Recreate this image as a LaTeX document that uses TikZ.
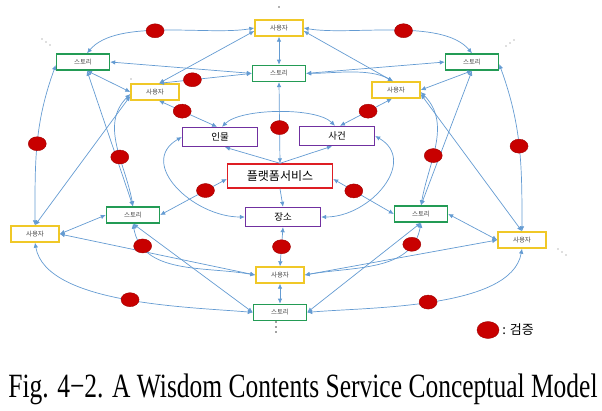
\documentclass[tikz,border=0pt]{standalone}
\usepackage{fontspec}
\setmainfont{Liberation Serif}
\newfontfamily\krfont{Noto Sans CJK KR}
\usepackage{xcolor}
\usepackage{tikz}
\usetikzlibrary{arrows.meta, positioning, shapes.geometric}

\definecolor{userY}{RGB}{240,200,40}
\definecolor{storyG}{RGB}{35,155,85}
\definecolor{topicP}{RGB}{112,48,160}
\definecolor{platR}{RGB}{222,30,36}
\definecolor{linkB}{RGB}{100,155,210}
\definecolor{chkR}{RGB}{200,0,0}

\begin{document}
\begin{tikzpicture}[
    x=1pt, y=1pt,
    node distance=20pt,
    user/.style={rectangle, draw=userY, line width=1.4pt, fill=white, minimum width=48pt, minimum height=16pt, inner sep=0pt, font=\krfont\fontsize{6.5}{7}\selectfont, text=black!70},
    story/.style={user, draw=storyG, minimum width=53pt},
    topic/.style={rectangle, draw=topicP, line width=1.4pt, fill=white, minimum width=75pt, minimum height=19pt, inner sep=0pt, font=\krfont\fontsize{9.5}{10}\selectfont},
    platform/.style={topic, draw=platR, minimum width=105pt, minimum height=24pt, font=\krfont\fontsize{12}{13}\selectfont},
    chk/.style={ellipse, fill=chkR, draw=chkR!80!black, line width=0.4pt, minimum width=18pt, minimum height=14pt, inner sep=0pt},
    arrow/.style={-{Latex[length=5pt, width=4.5pt]}, draw=linkB, line width=0.7pt},
    dblarrow/.style={arrow, {Latex[length=5pt, width=4.5pt]}-{Latex[length=5pt, width=4.5pt]}}
]
\useasboundingbox (0,0) rectangle (602,-410);

\node[user] (uT) at (279,-28) {사용자};
\node[story, below=28pt of uT] (sT) {스토리};
\node[story] (sTL) at (83,-62) {스토리};
\node[story] (sTR) at (472,-62) {스토리};
\node[user] (uL1) at (155,-92) {사용자};
\node[user] (uR1) at (396,-90) {사용자};
\node[topic] (pIn) at (220,-137) {인물};
\node[topic] (pSa) at (337,-136) {사건};
\node[platform] (plat) at (280,-176) {플랫폼서비스};
\node[topic] (pJa) at (283,-217) {장소};
\node[story] (sML) at (133,-215) {스토리};
\node[story] (sMR) at (421,-214) {스토리};
\node[user] (uML) at (35,-234) {사용자};
\node[user] (uMR) at (522,-240) {사용자};
\node[user] (uB) at (280,-275) {사용자};
\node[story, below=20pt of uB] (sB) {스토리};

\draw[dblarrow] ([xshift=4pt]sTL.north) to[out=50, in=190, looseness=.7] node[chk, pos=.45] (c1) {} (uT.west);
\draw[dblarrow] (uT.east) to[out=-10, in=130, looseness=.7] node[chk, pos=.55] (c2) {} (sTR.north);
\draw[dblarrow] (uT) -- (sT);
\draw[dblarrow] ([yshift=-3pt]uT.west) -- ([xshift=4pt]uL1.north);
\draw[dblarrow] ([yshift=-3pt]uT.east) -- ([xshift=-3pt]uR1.north);
\draw[dblarrow] (sT.west) -- (sTL.east);
\draw[dblarrow] (sT.east) -- (sTR.west);
\draw[dblarrow] (sT.west) -- node[chk, pos=.64] (c3) {} ([xshift=4pt]uL1.north);
\draw[dblarrow] (sT.east) to[out=0, in=150, looseness=.8] ([xshift=-3pt]uR1.north);

\draw[dblarrow] ([xshift=4pt]sTL.south) -- (uL1.west);
\draw[dblarrow] ([xshift=4pt]sTL.south) -- (sML.north);
\draw[dblarrow] ([yshift=-3pt]sTL.west) to[out=-110, in=90] node[chk, pos=.5] (c4) {} (uML.north);
\draw[dblarrow] ([yshift=-2pt]uL1.west) to[out=225, in=100] node[chk, pos=.6] (c5) {} (sML.north);
\draw[dblarrow] ([yshift=-4pt]uL1.west) -- (uML.north);

\draw[dblarrow] (sTR.south) -- (uR1.east);
\draw[dblarrow] (sTR.south) -- (sMR.north);
\draw[dblarrow] ([yshift=-2pt]sTR.east) to[out=-70, in=90] node[chk, pos=.5] (c6) {} (uMR.north);
\draw[dblarrow] ([yshift=-2pt]uR1.east) to[out=-45, in=80] node[chk, pos=.6] (c7) {} (sMR.north);
\draw[dblarrow] ([yshift=-4pt]uR1.east) -- (uMR.north);

\draw[dblarrow] ([xshift=4pt]uL1.south) -- node[chk, pos=.4] (c8) {} ([xshift=-3pt]pIn.north);
\draw[dblarrow] ([xshift=-4pt]uR1.south) -- node[chk, pos=.46] (c9) {} ([xshift=3pt]pSa.north);
\draw[dblarrow] (sT.south) -- node[chk, pos=.56] (c10) {} (plat.north);
\draw[dblarrow] ([xshift=2pt]pIn.north) to[out=45, in=135, looseness=.6] ([xshift=-2pt]pSa.north);
\draw[arrow] (plat.north) -- ([xshift=5pt]pIn.south);
\draw[arrow] (plat.north) -- ([xshift=-5pt]pSa.south);
\draw[arrow] (plat.south) -- (pJa.north);
\draw[dblarrow] (pIn.west) to[out=210, in=180, looseness=1.3] (pJa.west);
\draw[dblarrow] (pSa.east) to[out=-30, in=0, looseness=1.3] (pJa.east);
\draw[dblarrow] ([yshift=-3pt]plat.west) -- node[chk, pos=.32] (c11) {} (sML.east);
\draw[dblarrow] ([yshift=-3pt]plat.east) -- node[chk, pos=.34] (c12) {} (sMR.west);

\draw[dblarrow] (pJa.south) -- node[chk, pos=.5] (c13) {} (uB.north);
\draw[dblarrow] (uB) -- (sB);
\draw[dblarrow] (sML.west) -- (uML.east);
\draw[dblarrow] (sMR.east) -- (uMR.west);
\draw[dblarrow] (uML.east) -- (uB.west);
\draw[dblarrow] (uMR.west) -- (uB.east);
\draw[dblarrow] (sML.south) to[out=-80, in=170] node[chk, pos=.18] (c14) {} (uB.west);
\draw[dblarrow] (sMR.south) to[out=-100, in=10] node[chk, pos=.18] (c15) {} (uB.east);
\draw[dblarrow] (sML.south) -- (sB.west);
\draw[dblarrow] (sMR.south) -- (sB.east);
\draw[dblarrow] (uML.south) to[out=-80, in=175, looseness=.7] node[chk, pos=.52] (c16) {} (sB.west);
\draw[dblarrow] (uMR.south) to[out=-100, in=5, looseness=.7] node[chk, pos=.52] (c17) {} (sB.east);

\foreach \i in {0,1,2} {
  \fill[black!55] ({42+4*\i},{-39-3*\i}) circle (0.7);
  \fill[black!55] ({506+4*\i},{-46+3*\i}) circle (0.7);
  \fill[black!55] ({558+4*\i},{-249-3*\i}) circle (0.7);
  \fill[black!75] (276,{-322-5*\i}) circle (0.8);
}
\fill[black!60] (279,-7) circle (0.8);
\fill[black!60] (131,-79) circle (0.7);

\node[chk, minimum width=22pt, minimum height=17pt] (key) at (488,-330) {};
\node[right=3pt of key, inner sep=0pt, font=\krfont\fontsize{13}{14}\selectfont] (keytext) {: 검증};

\node[anchor=base, inner sep=0pt, font=\fontsize{34}{36}\selectfont] (cap) at (303,-397) {\scalebox{0.75}[1]{Fig. 4−2. A Wisdom Contents Service Conceptual Model}};
\end{tikzpicture}
\end{document}
